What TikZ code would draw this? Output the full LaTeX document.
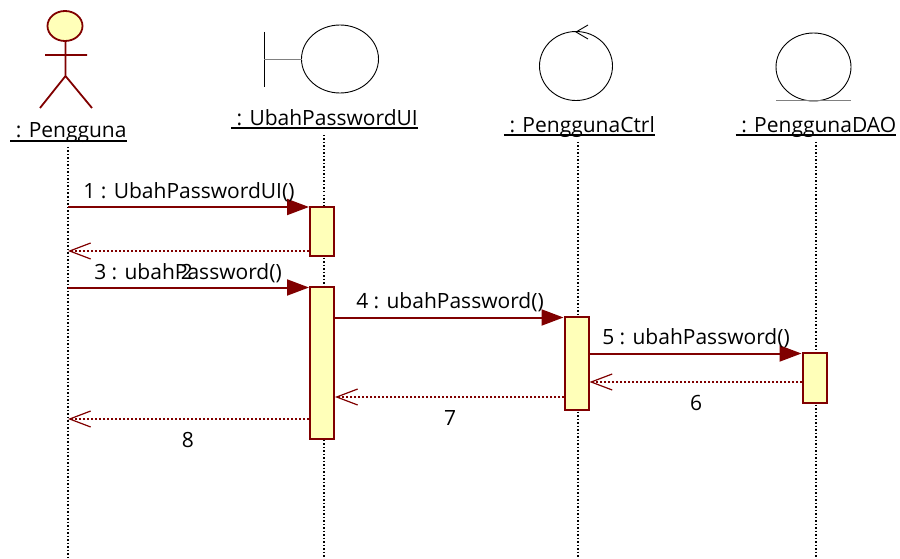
\documentclass[tikz,border=0pt]{standalone}
\usepackage{fontspec}
\setmainfont{Open Sans}
\usetikzlibrary{arrows.meta}
\definecolor{umlred}{HTML}{800000}
\definecolor{umlfill}{HTML}{FFFFB9}
\tikzset{
	objlabel/.style={inner sep=0pt,text depth=2.5pt,font=\fontsize{21}{24}\selectfont},
	msglabel/.style={inner sep=0pt,font=\fontsize{21}{24}\selectfont},
	lifeline/.style={line width=1.3pt,dash pattern=on 1.5pt off 2pt},
	activation/.style={draw=umlred,fill=umlfill,line width=2pt,minimum width=24pt,inner sep=0pt},
	call/.style={draw=umlred,line width=2pt,-{Triangle[length=22pt,width=16pt]}},
	reply/.style={draw=umlred,line width=1.5pt,dash pattern=on 2pt off 2pt,-{Straight Barb[length=21pt,width=16pt,line width=1.2pt]}},
	icon/.style={draw=black,line width=0.9pt},
	stick/.style={draw=umlred,line width=1.8pt}
}
\begin{document}
\begin{tikzpicture}[x=1pt,y=-1pt]
		\useasboundingbox (0,0) rectangle (900,559);
		% object labels
		\node[objlabel] (pengguna) at (68.5,131.75) {\ : Pengguna};
		\node[objlabel] (ubahui) at (324.5,118.75) {\ : UbahPasswordUI};
		\node[objlabel] (ctrl) at (579.5,125.75) {\ : PenggunaCtrl};
		\node[objlabel] (dao) at (816,125.75) {\ : PenggunaDAO};
		\foreach\i in {pengguna,ubahui,ctrl,dao}
		\draw[line width=1.8pt] (\i.south west) -- (\i.south east);
		% lifelines
		\coordinate (end1) at (68,559);
		\coordinate (end2) at (324,559);
		\coordinate (end3) at (578,559);
		\coordinate (end4) at (816,559);
		\draw[lifeline] (68,147) -- (end1);
		\draw[lifeline] (324,135) -- (end2);
		\draw[lifeline] (578,142) -- (end3);
		\draw[lifeline] (816,142) -- (end4);
		% actor
		\draw[stick,fill=umlfill] (65,26) ellipse [x radius=17.5pt,y radius=15pt];
		\draw[stick] (65.5,41) -- (65.5,76) (45,55) -- (87,55) (40,108) -- (65.5,76) -- (92,108);
		% boundary
		\draw[icon] (340,59) ellipse [x radius=38.5pt,y radius=34pt];
		\draw[icon] (264,32) -- (264,87);
		\draw[icon,gray] (264,59) -- (302,59);
		% control
		\draw[icon] (576,66) ellipse [x radius=36.5pt,y radius=34.5pt];
		\draw[icon] (588,25) -- (576,32) -- (588,39);
		% entity
		\draw[icon] (813.5,67) ellipse [x radius=37.5pt,y radius=34pt];
		\draw[icon,gray,line width=1.2pt] (776,100.5) -- (851,100.5);
		% activations
		\node[activation,minimum height=49pt] (act1) at (322,231.5) {};
		\node[activation,minimum height=152pt] (act2) at (322,363) {};
		\node[activation,minimum height=93pt] (act3) at (576.5,363.5) {};
		\node[activation,minimum height=50pt] (act4) at (814.5,378) {};
		% free ends and message heights
		\coordinate (m1) at (68,207);
		\coordinate (m2) at (68,251);
		\coordinate (m3) at (68,287.5);
		\coordinate (m4) at (450,317.5);
		\coordinate (m5) at (696,353.5);
		\coordinate (m6) at (802,382);
		\coordinate (m7) at (564,397);
		\coordinate (m8) at (68,419);
		% calls
		\draw[call] (m1) -- (act1.west |- m1);
		\draw[call] (m3) -- (act2.west |- m3);
		\draw[call] (act2.east |- m4) -- (act3.west |- m4);
		\draw[call] (act3.east |- m5) -- (act4.west |- m5);
		% replies
		\draw[reply] (act1.west |- m2) -- (m2);
		\draw[reply] (m6) -- (act3.east |- m6);
		\draw[reply] (m7) -- (act2.east |- m7);
		\draw[reply] (act2.west |- m8) -- (m8);
		% message labels
		\node[msglabel] (lab1) at (189,192.5) {1 : UbahPasswordUI()};
		\node[msglabel] (lab3) at (188,273.5) {3 : ubahPassword()};
		\node[msglabel] (lab2) at (187,272) {2};
		\node[msglabel] (lab4) at (450,302.5) {4 : ubahPassword()};
		\node[msglabel] (lab5) at (696,338.5) {5 : ubahPassword()};
		\node[msglabel] (lab6) at (696,403) {6};
		\node[msglabel] (lab7) at (450,418) {7};
		\node[msglabel] (lab8) at (188,440) {8};
	\end{tikzpicture}
\end{document}
